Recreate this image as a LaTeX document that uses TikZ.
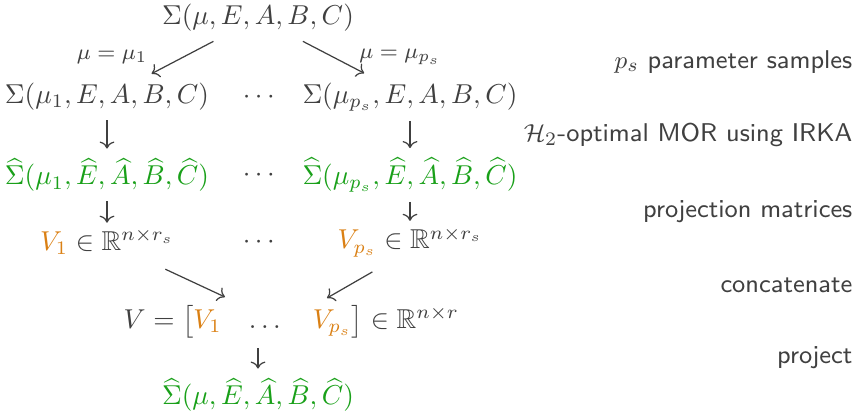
\documentclass[tikz,border=0pt]{standalone}
\usepackage{amsmath,amssymb}
\usepackage{tikz}
\usetikzlibrary{arrows.meta,positioning,calc}
\definecolor{morgreen}{RGB}{25,160,25}
\definecolor{mororange}{RGB}{218,128,20}
\definecolor{morgray}{RGB}{64,64,64}

\begin{document}
\begin{tikzpicture}[
    x=0.366pt,y=-0.366pt,
    every node/.style={text=morgray},
    arr/.style={->,draw=morgray,line width=0.45pt},
    red/.style={text=morgreen},
    lbl/.style={font=\footnotesize},
    note/.style={anchor=east,font=\fontsize{9.4}{11}\sffamily},
  ]
    \useasboundingbox (0,0) rectangle (858,416);
    % full model and samples
    \node (top) at (258,18) {$\Sigma(\mu,E,A,B,C)$};
    \node (s1) at (107,97) {$\Sigma(\mu_1,E,A,B,C)$};
    \node (d1) at (261,97) {$\cdots$};
    \node (sps) at (410,97) {$\Sigma(\mu_{p_s},E,A,B,C)$};
    % reduced models
    \node[red] (r1) at (107,175) {$\widehat{\Sigma}(\mu_1,\widehat{E},\widehat{A},\widehat{B},\widehat{C})$};
    \node (d2) at (261,175) {$\cdots$};
    \node[red] (rps) at (410,175) {$\widehat{\Sigma}(\mu_{p_s},\widehat{E},\widehat{A},\widehat{B},\widehat{C})$};
    % projection matrices
    \node (v1) at (107,242) {$\textcolor{mororange}{V_1}\in\mathbb{R}^{n\times r_s}$};
    \node (d3) at (261,242) {$\cdots$};
    \node (vps) at (410,242) {$\textcolor{mororange}{V_{p_s}}\in\mathbb{R}^{n\times r_s}$};
    \node[anchor=west] (cat) at (114,322) {$V=\begin{bmatrix}\textcolor{mororange}{V_1} & \dots & \textcolor{mororange}{V_{p_s}}\end{bmatrix}\in\mathbb{R}^{n\times r}$};
    \coordinate (c1) at (225,297);
    \coordinate (cps) at (327,298);
    \node[red] (rom) at (258,395) {$\widehat{\Sigma}(\mu,\widehat{E},\widehat{A},\widehat{B},\widehat{C})$};
    % arrows
    \draw[arr] (top) -- (s1);
    \draw[arr] (top) -- (sps);
    \node[lbl] (m1) at (112,57) {$\mu=\mu_1$};
    \node[lbl] (mps) at (400,57) {$\mu=\mu_{p_s}$};
    \draw[arr] (s1) -- (r1);
    \draw[arr] (sps) -- (rps);
    \draw[arr,shorten >=-1.2pt] (r1) -- (v1);
    \draw[arr,shorten >=-1.2pt] (rps) -- (vps);
    \draw[arr,shorten <=4pt] (v1.335) -- (c1);
    \draw[arr,shorten <=4pt] (vps.221) -- (cps);
    \draw[arr] (cat.south -| rom) -- (rom);
    % step descriptions
    \node[note] (n1) at (862,62) {$p_s$ parameter samples};
    \node[note] (n2) at (862,135) {$\mathcal{H}_2$-optimal MOR using IRKA};
    \node[note] (n3) at (862,212) {projection matrices};
    \node[note] (n4) at (862,285) {concatenate};
    \node[note] (n5) at (862,358) {project};
  \end{tikzpicture}
\end{document}
